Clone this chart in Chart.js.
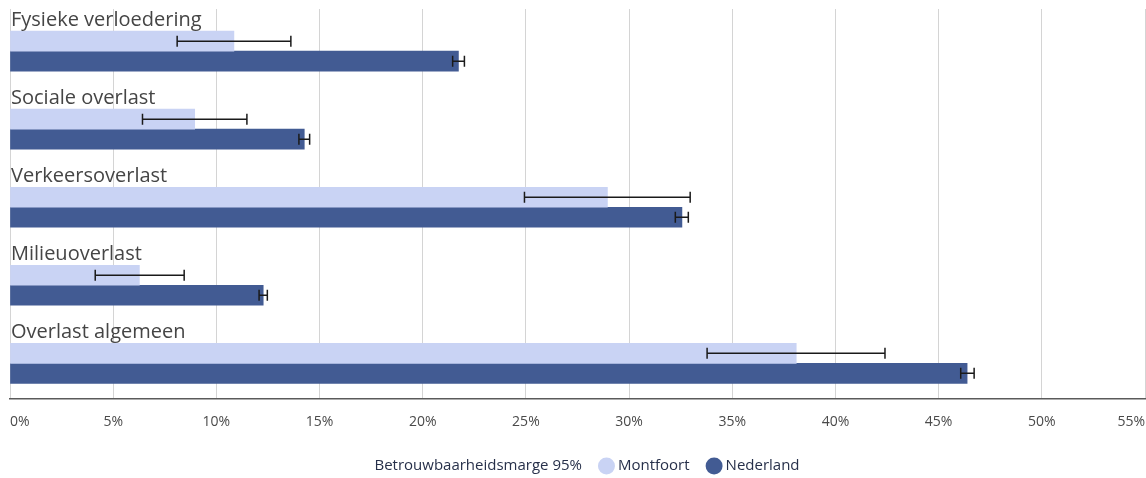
<!DOCTYPE html>
<html>
<head>
<meta charset="utf-8">
<script src="https://cdn.jsdelivr.net/npm/chart.js@4"></script>
<style>
  html, body { margin: 0; padding: 0; background: #fff; }
  #wrap { width: 1146px; height: 478px; position: relative; }
</style>
</head>
<body>
<div id="wrap"><canvas id="chart"></canvas></div>
<script>
// --- data ---
const categories = ['Fysieke verloedering', 'Sociale overlast', 'Verkeersoverlast', 'Milieuoverlast', 'Overlast algemeen'];
const seriesNames = ['Montfoort', 'Nederland'];
const montfoort = [10.85, 8.95, 28.95, 6.27, 38.1];
const montfoortLow = [8.1, 6.42, 24.93, 4.13, 33.78];
const montfoortHigh = [13.61, 11.48, 32.96, 8.44, 42.4];
const nederland = [21.73, 14.26, 32.56, 12.27, 46.38];
const nederlandLow = [21.45, 14.0, 32.24, 12.07, 46.07];
const nederlandHigh = [22.02, 14.52, 32.87, 12.47, 46.72];
const xTicks = [0, 5, 10, 15, 20, 25, 30, 35, 40, 45, 50, 55];
const legendPrefix = 'Betrouwbaarheidsmarge 95%';

const colors = ['#c9d3f4', '#425b93'];
const lows = [montfoortLow, nederlandLow];
const highs = [montfoortHigh, nederlandHigh];
const FONT = '"Open Sans", "Noto Sans", sans-serif';

// category titles above each group + error bars + legend line
const extrasPlugin = {
  id: 'extras',
  afterDatasetsDraw(chart) {
    const ctx = chart.ctx;
    const xs = chart.scales.x;
    ctx.save();
    // error bars
    ctx.strokeStyle = '#1a1a1a';
    ctx.lineWidth = 1.5;
    [0, 1].forEach(d => {
      const meta = chart.getDatasetMeta(d);
      meta.data.forEach((bar, i) => {
        const x1 = xs.getPixelForValue(lows[d][i]);
        const x2 = xs.getPixelForValue(highs[d][i]);
        const y = bar.y;
        ctx.beginPath();
        ctx.moveTo(x1, y); ctx.lineTo(x2, y);
        ctx.moveTo(x1, y - 5.5); ctx.lineTo(x1, y + 5.5);
        ctx.moveTo(x2, y - 5.5); ctx.lineTo(x2, y + 5.5);
        ctx.stroke();
      });
    });
    // category titles
    ctx.fillStyle = '#454545';
    ctx.font = '20px ' + FONT;
    ctx.textAlign = 'left';
    ctx.textBaseline = 'alphabetic';
    const meta0 = chart.getDatasetMeta(0);
    meta0.data.forEach((bar, i) => {
      const top = bar.y - bar.height / 2;
      ctx.fillText(categories[i], chart.chartArea.left + 1, top - 5);
    });
    ctx.restore();
  },
  afterDraw(chart) {
    const ctx = chart.ctx;
    ctx.save();
    ctx.font = '15px ' + FONT;
    ctx.fillStyle = '#27304a';
    ctx.textBaseline = 'middle';
    const r = 8.5, gapText = 16, gapItem = 16, gapCircle = 3;
    let total = ctx.measureText(legendPrefix).width + gapText;
    seriesNames.forEach((n, i) => {
      total += r * 2 + gapCircle + ctx.measureText(n).width + (i < seriesNames.length - 1 ? gapItem : 0);
    });
    let x = (chart.width - total) / 2 + 14;
    const y = 466;
    ctx.fillText(legendPrefix, x, y);
    x += ctx.measureText(legendPrefix).width + gapText;
    seriesNames.forEach((n, i) => {
      ctx.beginPath();
      ctx.fillStyle = colors[i];
      ctx.arc(x + r, y, r, 0, Math.PI * 2);
      ctx.fill();
      x += r * 2 + gapCircle;
      ctx.fillStyle = '#27304a';
      ctx.fillText(n, x, y);
      x += ctx.measureText(n).width + gapItem;
    });
    ctx.restore();
  }
};

new Chart(document.getElementById('chart'), {
  type: 'bar',
  data: {
    datasets: [
      { label: seriesNames[0], data: montfoort.map((v, i) => ({ x: v, y: i })), backgroundColor: colors[0] },
      { label: seriesNames[1], data: nederland.map((v, i) => ({ x: v, y: i })), backgroundColor: colors[1] }
    ]
  },
  options: {
    indexAxis: 'y',
    responsive: true,
    maintainAspectRatio: false,
    animation: false,
    barThickness: 20,
    layout: { padding: { left: 10, right: 1, top: 9, bottom: 34 } },
    plugins: { legend: { display: false }, tooltip: { enabled: false } },
    scales: {
      y: {
        type: 'linear',
        display: false,
        offset: false,
        reverse: true,
        min: -0.54,
        max: 4.46
      },
      x: {
        type: 'linear',
        min: 0,
        max: 55,
        afterBuildTicks: axis => { axis.ticks = xTicks.map(v => ({ value: v })); },
        afterFit: axis => { axis.paddingLeft = 0; axis.paddingRight = 0; },
        ticks: {
          callback: v => v + '%',
          color: '#4a4a4a',
          font: { family: FONT, size: 14 },
          align: 'inner',
          padding: 14
        },
        grid: { color: '#d4d4d4', lineWidth: 1, drawTicks: false },
        border: { color: '#5a5a5a', width: 1.5 }
      }
    }
  },
  plugins: [extrasPlugin]
});
</script>
</body>
</html>
